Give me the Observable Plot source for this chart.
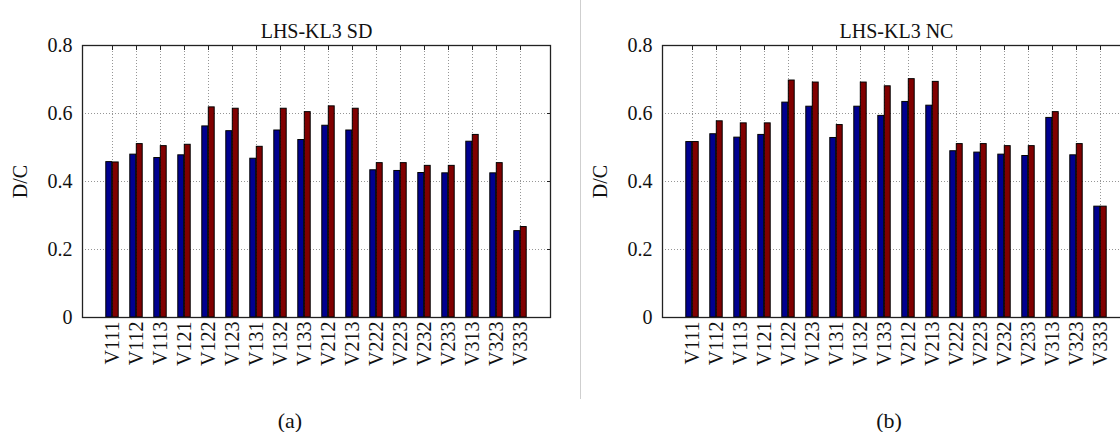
<!DOCTYPE html>
<html>
<head>
<meta charset="utf-8">
<script src="https://cdn.jsdelivr.net/npm/d3@7"></script>
<script src="https://cdn.jsdelivr.net/npm/@observablehq/plot@0.6"></script>
<style>
  html, body { margin: 0; padding: 0; background: white; overflow: hidden; width: 1120px; height: 432px; }
  #root { position: relative; width: 1120px; height: 432px; overflow: hidden; }
  .panel { position: absolute; top: 0; width: 580px; height: 400px; }
  .panel svg { max-width: none !important; font-family: "Liberation Serif", serif !important; }
  .panel svg text { font-family: "Liberation Serif", serif !important; }
  .cap { position: absolute; top: 408px; width: 80px; text-align: center; font-family: "Liberation Serif", serif; font-size: 22px; line-height: 26px; color: #111; }
  #sep { position: absolute; left: 580px; top: 0; width: 1px; height: 399px; background: #cfcfcf; }
</style>
</head>
<body>
<div id="root">
  <div class="panel" id="pa" style="left:0px"></div>
  <div class="panel" id="pb" style="left:580px"></div>
  <div id="sep"></div>
  <div class="cap" style="left:250px">(a)</div>
  <div class="cap" style="left:849px">(b)</div>
</div>
<script>
const categories = ["V111","V112","V113","V121","V122","V123","V131","V132","V133","V212","V213","V222","V223","V232","V233","V313","V323","V333"];
const sdBlue = [0.457,0.479,0.469,0.477,0.562,0.548,0.467,0.550,0.522,0.564,0.550,0.433,0.431,0.425,0.424,0.517,0.424,0.254];
const sdRed  = [0.456,0.510,0.504,0.508,0.618,0.614,0.502,0.614,0.604,0.621,0.614,0.454,0.454,0.446,0.446,0.537,0.454,0.266];
const ncBlue = [0.516,0.539,0.529,0.537,0.632,0.620,0.528,0.620,0.593,0.634,0.623,0.489,0.485,0.479,0.475,0.587,0.477,0.326];
const ncRed  = [0.516,0.577,0.571,0.571,0.697,0.691,0.566,0.691,0.680,0.701,0.693,0.510,0.510,0.504,0.504,0.604,0.510,0.326];
const yTicks = [0, 0.2, 0.4, 0.6, 0.8];
const titles = ["LHS-KL3 SD", "LHS-KL3 NC"];

function chart(title, blue, red) {
  const data = categories.map((c, i) => ({c, b: blue[i], r: red[i]}));
  const grid = {stroke: "#8a8a8a", strokeOpacity: 1, strokeDasharray: "1,2", strokeWidth: 0.9};
  return Plot.plot({
    width: 580, height: 400,
    marginLeft: 82, marginRight: 30, marginTop: 45, marginBottom: 83,
    style: {fontFamily: "Liberation Serif, serif", fontSize: "20px", color: "#111", background: "white", overflow: "visible"},
    x: {domain: categories, paddingInner: 0, paddingOuter: 0.5, label: null},
    y: {domain: [0, 0.8], label: null},
    marks: [
      Plot.gridY(yTicks, grid),
      Plot.gridX(categories, grid),
      Plot.barY(data, {x: "c", y: "b", fill: "#00008f", stroke: "black", strokeWidth: 1, insetLeft: 5.8, insetRight: 12.3}),
      Plot.barY(data, {x: "c", y: "r", fill: "#800000", stroke: "black", strokeWidth: 1, insetLeft: 12.3, insetRight: 5.8}),
      Plot.axisY(yTicks, {anchor: "right", tickSize: -4, tickFormat: () => "", label: null, stroke: "#222"}),
      Plot.axisX(categories, {anchor: "top", tickSize: -4, tickFormat: () => "", label: null, stroke: "#222"}),
      Plot.frame({stroke: "#222", strokeWidth: 1.3}),
      Plot.axisY(yTicks, {anchor: "left", tickSize: 0, tickPadding: 10, fontSize: 20,
        tickFormat: d => d === 0 ? "0" : d.toFixed(1),
        label: "D/C", labelAnchor: "center", labelArrow: "none", labelOffset: 70}),
      Plot.axisX(categories, {anchor: "bottom", tickSize: 0, tickPadding: 4, tickRotate: -90, fontSize: 20, label: null}),
      Plot.text([title], {frameAnchor: "top", dy: -22, fontSize: 20, fill: "#111"})
    ]
  });
}

document.getElementById("pa").append(chart(titles[0], sdBlue, sdRed));
document.getElementById("pb").append(chart(titles[1], ncBlue, ncRed));
</script>
</body>
</html>
